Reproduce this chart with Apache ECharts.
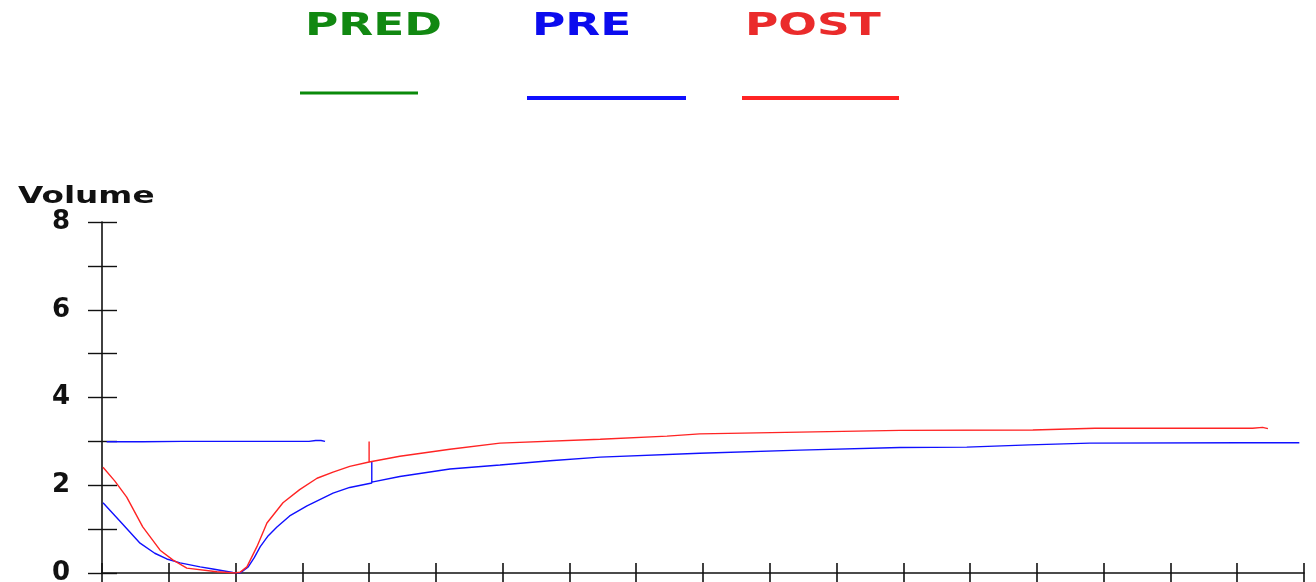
<!DOCTYPE html>
<html>
<head>
<meta charset="utf-8">
<script src="https://cdn.jsdelivr.net/npm/echarts@6/dist/echarts.min.js"></script>
<style>
html,body{margin:0;padding:0;background:#fff;}
#chart{width:1316px;height:582px;}
</style>
</head>
<body>
<div id="chart"></div>
<script>
// ---- data ----
const seriesNames = ['PRED', 'PRE', 'POST'];
const yTickLabels = ['0', '', '2', '', '4', '', '6', '', '8'];
const yAxisTitle = 'Volume';
// time (s), volume
const predData = [];
const preData = [
  [0.07, 2.99], [0.6, 2.99], [1.2, 3.0], [2.4, 3.0], [3.1, 3.0], [3.2, 3.02], [3.28, 3.02], [3.34, 3.0],
  null,
  [0.015, 1.6], [0.27, 1.18], [0.57, 0.68], [0.79, 0.45], [0.97, 0.32], [1.17, 0.23], [1.47, 0.14],
  [1.66, 0.09], [1.96, 0.01], [2.07, 0.0], [2.19, 0.14], [2.28, 0.35], [2.37, 0.6], [2.49, 0.85],
  [2.62, 1.05], [2.81, 1.3], [3.07, 1.53], [3.46, 1.82], [3.71, 1.95], [4.04, 2.05], [4.04, 2.55],
  [4.04, 2.07], [4.46, 2.2], [5.21, 2.37], [5.96, 2.46], [6.71, 2.56], [7.46, 2.64], [8.95, 2.73],
  [10.45, 2.8], [11.95, 2.86], [12.95, 2.87], [13.89, 2.92], [14.79, 2.96], [17.04, 2.97], [17.93, 2.97]
];
const postData = [
  [0.015, 2.41], [0.19, 2.1], [0.37, 1.73], [0.61, 1.05], [0.87, 0.52], [1.06, 0.3], [1.27, 0.11],
  [1.72, 0.03], [1.99, 0.0], [2.07, 0.02], [2.17, 0.14], [2.32, 0.6], [2.47, 1.14], [2.71, 1.6],
  [2.96, 1.9], [3.22, 2.16], [3.46, 2.3], [3.71, 2.43], [4.0, 2.53], [4.0, 3.0], [4.0, 2.53],
  [4.46, 2.66], [5.21, 2.82], [5.96, 2.96], [7.46, 3.05], [8.46, 3.12], [8.95, 3.17], [10.45, 3.21],
  [11.95, 3.25], [13.94, 3.26], [14.87, 3.3], [17.23, 3.3], [17.38, 3.32], [17.46, 3.29]
];
const seriesColors = ['#0a8a0a', '#1010ff', '#ff2424'];
const legendTextColors = ['#118811', '#0b0bee', '#ea2b2b'];

// ---- chart ----
const chart = echarts.init(document.getElementById('chart'), null, {renderer: 'canvas'});
const axisColor = '#111';
const xCommon = {type: 'value', min: 0, max: 18, interval: 1, position: 'bottom',
  splitLine: {show: false}, axisLabel: {show: false}};
const yCommon = {type: 'value', min: 0, max: 8, interval: 1, position: 'left',
  splitLine: {show: false}};

const legendPos = [
  {tx: 305, lx1: 300, lx2: 418, ly: 93, lw: 3},
  {tx: 532, lx1: 527, lx2: 686, ly: 98, lw: 4},
  {tx: 745, lx1: 742, lx2: 899, ly: 98, lw: 4}
];
const graphics = [];
seriesNames.forEach((n, i) => {
  const p = legendPos[i];
  graphics.push({type: 'text', x: p.tx, y: 11, scaleX: 1.42,
    style: {text: n, fill: legendTextColors[i], font: 'bold 32px "DejaVu Sans"', textAlign: 'left', textVerticalAlign: 'top'}});
  graphics.push({type: 'line', shape: {x1: p.lx1, y1: p.ly, x2: p.lx2, y2: p.ly},
    style: {stroke: seriesColors[i], lineWidth: p.lw}});
});
graphics.push({type: 'text', x: 18, y: 186, scaleX: 1.42,
  style: {text: yAxisTitle, fill: '#111', font: 'bold 23px "DejaVu Sans"', textAlign: 'left', textVerticalAlign: 'top'}});

chart.setOption({
  animation: false,
  backgroundColor: '#ffffff',
  grid: {left: 102, right: 12, top: 222, bottom: 9, containLabel: false, outerBoundsMode: 'none'},
  xAxis: [
    Object.assign({}, xCommon, {axisLine: {show: true, lineStyle: {color: axisColor, width: 1.6}},
      axisTick: {show: true, inside: false, length: 12, lineStyle: {color: axisColor, width: 1.6}}}),
    Object.assign({}, xCommon, {axisLine: {show: false},
      axisTick: {show: true, inside: true, length: 10, lineStyle: {color: axisColor, width: 1.6}}})
  ],
  yAxis: [
    Object.assign({}, yCommon, {axisLine: {show: true, lineStyle: {color: axisColor, width: 1.6}},
      axisTick: {show: true, inside: false, length: 14, lineStyle: {color: axisColor, width: 1.4}},
      axisLabel: {show: true, margin: 32, color: '#111', fontFamily: 'DejaVu Sans', fontWeight: 'bold', fontSize: 26,
        formatter: v => yTickLabels[Math.round(v)] || ''}}),
    Object.assign({}, yCommon, {axisLine: {show: false},
      axisTick: {show: true, inside: true, length: 15, lineStyle: {color: axisColor, width: 1.4}},
      axisLabel: {show: false}})
  ],
  graphic: graphics,
  series: [
    {name: seriesNames[0], type: 'line', data: predData, showSymbol: false, lineStyle: {color: seriesColors[0], width: 1.4}},
    {name: seriesNames[1], type: 'line', data: preData, showSymbol: false, connectNulls: false, lineStyle: {color: seriesColors[1], width: 1.4}},
    {name: seriesNames[2], type: 'line', data: postData, showSymbol: false, lineStyle: {color: seriesColors[2], width: 1.4}}
  ]
});
</script>
</body>
</html>
